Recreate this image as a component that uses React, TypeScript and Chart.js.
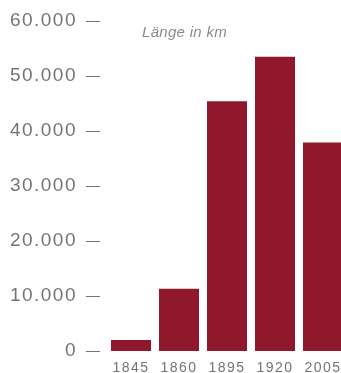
import React, { useEffect, useRef } from "react";
import { Chart, registerables } from "chart.js";

Chart.register(...registerables);

const years = ["1845", "1860", "1895", "1920", "2005"];
const lengthKm = [2000, 11300, 45400, 53500, 37900];
const yTicks = [0, 10000, 20000, 30000, 40000, 50000, 60000];
const titleText = "Länge in km";

const BAR = "#8f182d";
const GRAY = "#747474";
const FONT = "'Liberation Sans', Arial, sans-serif";

const fmt = (v: number) => String(v).replace(/\B(?=(\d{3})+(?!\d))/g, ".");

export default function App() {
  const ref = useRef<HTMLCanvasElement | null>(null);
  useEffect(() => {
    const canvas = ref.current!;
    const spacingPlugin = {
      id: "spacing",
      beforeDraw(chart: any) {
        chart.ctx.letterSpacing = "1.5px";
      },
      afterDraw(chart: any) {
        const ys = chart.scales.y;
        const ctx = chart.ctx;
        ctx.save();
        ctx.strokeStyle = GRAY;
        ctx.lineWidth = 1;
        ys.ticks.forEach((t: any) => {
          const py = Math.round(ys.getPixelForValue(t.value)) + 0.5;
          ctx.beginPath();
          ctx.moveTo(ys.right - 21, py);
          ctx.lineTo(ys.right - 7, py);
          ctx.stroke();
        });
        ctx.restore();
      },
    };
    const chart = new Chart(canvas, {
      type: "bar",
      data: {
        labels: years,
        datasets: [
          {
            data: lengthKm,
            backgroundColor: BAR,
            borderWidth: 0,
            barPercentage: 40 / 48,
            categoryPercentage: 1,
          },
        ],
      },
      options: {
        animation: false,
        responsive: false,
        layout: { padding: { top: 21, right: 0, bottom: 0, left: 0 } },
        plugins: {
          legend: { display: false },
          tooltip: { enabled: false },
          title: { display: false },
        },
        scales: {
          x: {
            grid: { display: false, drawTicks: false },
            border: { display: false },
            ticks: {
              color: GRAY,
              font: { family: FONT, size: 14 },
              padding: 9,
              maxRotation: 0,
              autoSkip: false,
            },
            afterFit: (s: any) => {
              s.height = 22;
              s.paddingLeft = 0;
              s.paddingRight = 0;
            },
          },
          y: {
            min: 0,
            max: 60000,
            grid: { display: false, drawTicks: false },
            border: { display: false },
            afterBuildTicks: (s: any) => {
              s.ticks = yTicks.map((v) => ({ value: v }));
            },
            ticks: {
              color: GRAY,
              font: { family: FONT, size: 19 },
              padding: 30,
              callback: (v: any) => fmt(Number(v)),
            },
            afterFit: (s: any) => {
              s.width = 107;
              s.paddingTop = 0;
              s.paddingBottom = 0;
            },
          },
        },
      },
      plugins: [spacingPlugin],
    });
    return () => chart.destroy();
  }, []);

  return (
    <div
      style={{
        position: "fixed",
        left: 0,
        top: 0,
        width: 341,
        height: 373,
        overflow: "hidden",
        background: "#ffffff",
      }}
    >
      <canvas
        ref={ref}
        width={347}
        height={373}
        style={{ position: "absolute", left: 0, top: 0, width: 347, height: 373 }}
      />
      <div
        style={{
          position: "absolute",
          left: 142,
          top: 24,
          fontFamily: FONT,
          fontStyle: "italic",
          fontSize: 15,
          lineHeight: "15px",
          color: "#8a8a8a",
          whiteSpace: "nowrap",
          letterSpacing: "0.3px",
        }}
      >
        {titleText}
      </div>
    </div>
  );
}
